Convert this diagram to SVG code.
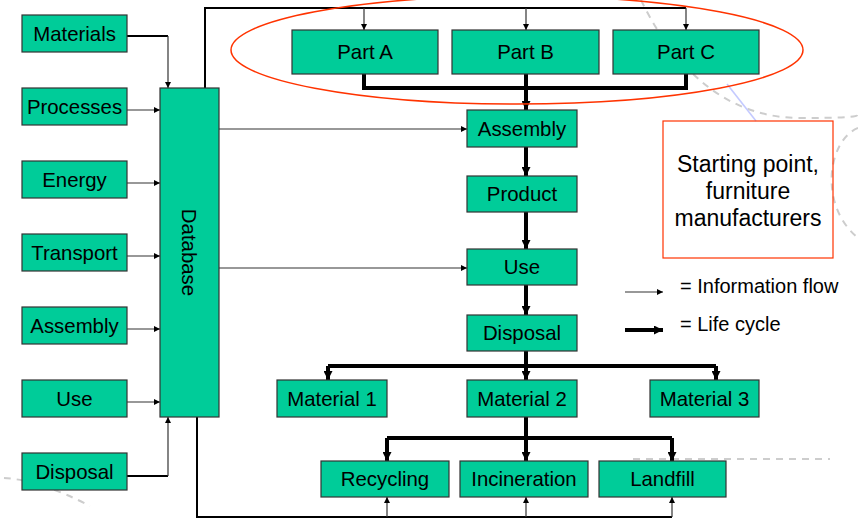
<svg xmlns="http://www.w3.org/2000/svg" width="858" height="519" viewBox="0 0 858 519">
<style>
.box{fill:#00cc99;stroke:#333;stroke-width:1.2}
.t{font-family:"Liberation Sans",Arial,sans-serif;font-size:20.4px;fill:#000;text-anchor:middle}
.info{fill:none;stroke:#333;stroke-width:1.2}
.infob{fill:none;stroke:#000;stroke-width:2}
.life{fill:none;stroke:#000;stroke-width:4}
.bg{fill:none;stroke:#cdcdcd;stroke-width:2;stroke-dasharray:7 6}
</style>
<defs>
<marker id="ah" viewBox="0 0 6 6" refX="6" refY="3" markerWidth="6" markerHeight="6" markerUnits="userSpaceOnUse" orient="auto"><path d="M0,0 L6,3 L0,6 z" fill="#000"/></marker>
<marker id="AH" viewBox="0 0 8 8" refX="8" refY="4" markerWidth="9" markerHeight="9" markerUnits="userSpaceOnUse" orient="auto"><path d="M0,0 L8,4 L0,8 z" fill="#000"/></marker>
</defs>
<rect width="858" height="519" fill="#fff"/>
<g id="background">
<path class="bg" d="M641,0 C670,60 720,118 800,118 S850,114 858,113"/>
<path class="bg" d="M858,128 C828,140 818,205 858,238"/>
<path class="bg" d="M633,459 H830"/>
<path class="bg" d="M4,478 Q40,480 90,506"/>
<path d="M727,84 L756,121" stroke="#c4caff" stroke-width="1.6" fill="none"/>
</g>
<g id="connectors">
<path class="infob" d="M127,36 H168"/>
<path class="info" d="M168,36 V88" marker-end="url(#ah)"/>
<path class="info" d="M127,110 H160" marker-end="url(#ah)"/>
<path class="info" d="M127,183 H160" marker-end="url(#ah)"/>
<path class="info" d="M127,256 H160" marker-end="url(#ah)"/>
<path class="info" d="M127,329 H160" marker-end="url(#ah)"/>
<path class="info" d="M127,402 H160" marker-end="url(#ah)"/>
<path class="infob" d="M127,476 H168"/>
<path class="info" d="M168,476 V417" marker-end="url(#ah)"/>
<path class="info" d="M219,129 H467" stroke="#555" stroke-width="1.6" marker-end="url(#ah)"/>
<path class="info" d="M219,268 H467" stroke="#555" stroke-width="1.6" marker-end="url(#ah)"/>
<path class="infob" d="M205,88 V8 H686"/>
<path class="info" d="M364,8 V30" marker-end="url(#ah)"/>
<path class="info" d="M526,8 V30" marker-end="url(#ah)"/>
<path class="info" d="M686,8 V30" marker-end="url(#ah)"/>
<path class="infob" d="M197,417 V517 H672"/>
<path class="info" d="M387,517 V497" marker-end="url(#ah)"/>
<path class="info" d="M526,517 V497" marker-end="url(#ah)"/>
<path class="info" d="M672,517 V497" marker-end="url(#ah)"/>
<path class="life" d="M364,74 V88 H686 V74"/>
<path class="life" d="M526,74 V110" marker-end="url(#AH)"/>
<path class="life" d="M526,147 V176" marker-end="url(#AH)"/>
<path class="life" d="M526,212 V249" marker-end="url(#AH)"/>
<path class="life" d="M526,285 V315" marker-end="url(#AH)"/>
<path class="life" d="M526,351 V366 M328,366 H716"/>
<path class="life" d="M328,366 V380" marker-end="url(#AH)"/>
<path class="life" d="M526,366 V380" marker-end="url(#AH)"/>
<path class="life" d="M716,366 V380" marker-end="url(#AH)"/>
<path class="life" d="M526,417 V438 M387,438 H672"/>
<path class="life" d="M387,438 V461" marker-end="url(#AH)"/>
<path class="life" d="M526,438 V461" marker-end="url(#AH)"/>
<path class="life" d="M672,438 V461" marker-end="url(#AH)"/>
</g>
<g id="scope"><ellipse cx="517" cy="50" rx="286" ry="54" fill="none" stroke="#ff3300" stroke-width="1.5"/></g>
<g id="n-materials"><rect class="box" x="22" y="15" width="105" height="37"/><text class="t" x="74.5" y="40.5">Materials</text></g>
<g id="n-processes"><rect class="box" x="22" y="88" width="105" height="37"/><text class="t" x="74.5" y="113.5">Processes</text></g>
<g id="n-energy"><rect class="box" x="22" y="161" width="105" height="37"/><text class="t" x="74.5" y="186.5">Energy</text></g>
<g id="n-transport"><rect class="box" x="22" y="234" width="105" height="37"/><text class="t" x="74.5" y="259.5">Transport</text></g>
<g id="n-assembly-l"><rect class="box" x="22" y="307" width="105" height="37"/><text class="t" x="74.5" y="332.5">Assembly</text></g>
<g id="n-use-l"><rect class="box" x="22" y="380" width="105" height="37"/><text class="t" x="74.5" y="405.5">Use</text></g>
<g id="n-disposal-l"><rect class="box" x="22" y="453" width="105" height="37"/><text class="t" x="74.5" y="478.5">Disposal</text></g>
<g id="n-database"><rect class="box" x="160" y="88" width="59" height="329"/><text class="t" transform="translate(182,252.5) rotate(90)" x="0" y="0">Database</text></g>
<g id="n-parta"><rect class="box" x="292" y="30" width="146" height="44"/><text class="t" x="365" y="59">Part A</text></g>
<g id="n-partb"><rect class="box" x="452" y="30" width="147" height="44"/><text class="t" x="525.5" y="59">Part B</text></g>
<g id="n-partc"><rect class="box" x="613" y="30" width="146" height="44"/><text class="t" x="686" y="59">Part C</text></g>
<g id="n-assembly"><rect class="box" x="467" y="110" width="110" height="37"/><text class="t" x="522" y="135.5">Assembly</text></g>
<g id="n-product"><rect class="box" x="467" y="176" width="110" height="36"/><text class="t" x="522" y="201">Product</text></g>
<g id="n-use"><rect class="box" x="467" y="249" width="110" height="36"/><text class="t" x="522" y="274">Use</text></g>
<g id="n-disposal"><rect class="box" x="467" y="315" width="110" height="36"/><text class="t" x="522" y="340">Disposal</text></g>
<g id="n-material1"><rect class="box" x="277" y="380" width="110" height="37"/><text class="t" x="332" y="405.5">Material 1</text></g>
<g id="n-material2"><rect class="box" x="467" y="380" width="110" height="37"/><text class="t" x="522" y="405.5">Material 2</text></g>
<g id="n-material3"><rect class="box" x="650" y="380" width="109" height="37"/><text class="t" x="704.5" y="405.5">Material 3</text></g>
<g id="n-recycling"><rect class="box" x="321" y="461" width="128" height="36"/><text class="t" x="385" y="486">Recycling</text></g>
<g id="n-incineration"><rect class="box" x="460" y="461" width="128" height="36"/><text class="t" x="524" y="486">Incineration</text></g>
<g id="n-landfill"><rect class="box" x="599" y="461" width="127" height="36"/><text class="t" x="662.5" y="486">Landfill</text></g>
<g id="n-start"><rect x="663" y="121" width="170" height="137" fill="none" stroke="#ff3300" stroke-width="1.2"/>
<text class="t" style="font-size:23px" x="748" y="172">Starting point,</text>
<text class="t" style="font-size:23px" x="748" y="199">furniture</text>
<text class="t" style="font-size:23px" x="748" y="226">manufacturers</text></g>
<g id="legend">
<path class="info" d="M625,292 H663" stroke="#000" marker-end="url(#ah)"/>
<path class="life" d="M625,330 H663" stroke-width="3.5" marker-end="url(#AH)"/>
<text class="t" style="font-size:20px;text-anchor:start" x="680" y="293">= Information flow</text>
<text class="t" style="font-size:20px;text-anchor:start" x="680" y="331">= Life cycle</text>
</g>
</svg>
